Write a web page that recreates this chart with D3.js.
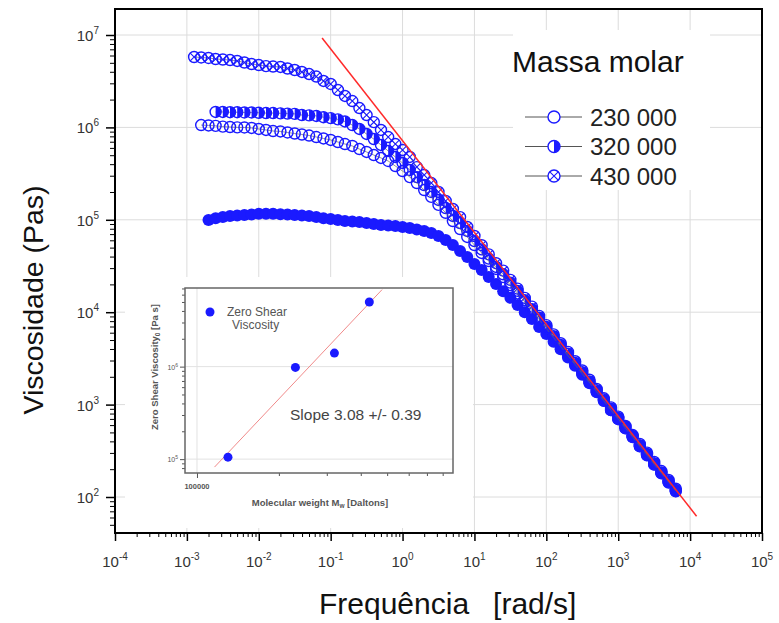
<!DOCTYPE html>
<html>
<head>
<meta charset="utf-8">
<script src="https://cdn.jsdelivr.net/npm/d3@7"></script>
<style>
  body { margin: 0; background: #fff; }
  svg { font-family: "Liberation Sans", Arial, Helvetica, sans-serif; }
</style>
</head>
<body>
<svg id="chart" width="779" height="623"></svg>
<script>
// frequencies [rad/s]
const freq = [0.00126, 0.00158, 0.002, 0.00251, 0.00316, 0.00398, 0.00501, 0.00631, 0.00794, 0.01,
	0.0126, 0.0158, 0.02, 0.0251, 0.0316, 0.0398, 0.0501, 0.0631, 0.0794, 0.1,
	0.126, 0.158, 0.2, 0.251, 0.316, 0.398, 0.501, 0.631, 0.794, 1,
	1.26, 1.58, 2, 2.51, 3.16, 3.98, 5.01, 6.31, 7.94, 10,
	12.6, 15.8, 20, 25.1, 31.6, 39.8, 50.1, 63.1, 79.4, 100,
	126, 158, 200, 251, 316, 398, 501, 631, 794, 1000,
	1259, 1585, 1995, 2512, 3162, 3981, 5012, 6310];

// viscosity [Pa s] for each molar mass, null = no point
const eta430 = [5.78e6, 5.71e6, 5.64e6, 5.50e6, 5.43e6, 5.36e6, 5.24e6, 5.04e6, 4.85e6, 4.73e6,
	4.61e6, 4.56e6, 4.51e6, 4.34e6, 4.18e6, 3.98e6, 3.78e6, 3.55e6, 3.18e6, 2.95e6,
	2.54e6, 2.19e6, 1.93e6, 1.62e6, 1.36e6, 1.14e6, 9.38e5, 7.87e5, 6.61e5, 5.69e5,
	4.79e5, 3.72e5, 3.05e5, 2.50e5, 2.00e5, 1.60e5, 1.31e5, 1.07e5, 8.36e4, 6.68e4,
	5.31e4, 4.22e4, 3.39e4, 2.82e4, 2.24e4, 1.80e4, 1.43e4, 1.15e4, 9.12e3, 7.24e3,
	5.75e3, 4.62e3, 3.72e3, 2.95e3, 2.34e3, 1.86e3, 1.48e3, 1.17e3, 933, 741,
	589, 468, 376, 302, 240, 191, 153, 123];

const eta320 = [null, null, null, 1.47e6, 1.47e6, 1.46e6, 1.46e6, 1.45e6, 1.45e6, 1.44e6,
	1.43e6, 1.43e6, 1.42e6, 1.41e6, 1.40e6, 1.36e6, 1.35e6, 1.33e6, 1.29e6, 1.26e6,
	1.22e6, 1.16e6, 1.06e6, 9.62e5, 8.49e5, 7.48e5, 6.46e5, 5.56e5, 4.79e5, 4.12e5,
	3.46e5, 2.90e5, 2.38e5, 2.00e5, 1.64e5, 1.34e5, 1.10e5, 9.23e4, 7.57e4, 5.89e4,
	4.79e4, 3.80e4, 3.09e4, 2.57e4, 2.09e4, 1.70e4, 1.35e4, 1.08e4, 8.71e3, 6.92e3,
	5.50e3, 4.42e3, 3.55e3, 2.82e3, 2.24e3, 1.78e3, 1.43e3, 1.14e3, 902, 716,
	575, 457, 363, 292, 232, 184, 148, 119];

const eta230 = [null, 1.06e6, 1.05e6, 1.04e6, 1.02e6, 1.01e6, 1.00e6, 9.98e5, 9.86e5, 9.62e5,
	9.38e5, 9.14e5, 9.04e5, 8.81e5, 8.59e5, 8.38e5, 8.17e5, 7.87e5, 7.59e5, 7.31e5,
	6.95e5, 6.61e5, 6.30e5, 5.83e5, 5.42e5, 5.02e5, 4.67e5, 4.33e5, 3.82e5, 3.37e5,
	2.90e5, 2.50e5, 2.10e5, 1.77e5, 1.45e5, 1.19e5, 9.70e4, 7.94e4, 6.52e4, 5.33e4,
	4.38e4, 3.58e4, 2.94e4, 2.40e4, 1.97e4, 1.60e4, 1.29e4, 1.04e4, 8.32e3, 6.68e3,
	5.33e3, 4.27e3, 3.39e3, 2.72e3, 2.16e3, 1.74e3, 1.38e3, 1.10e3, 871, 700,
	556, 447, 355, 285, 226, 182, 145, 116];

const eta130 = [null, null, 9.95e4, 1.04e5, 1.07e5, 1.10e5, 1.11e5, 1.13e5, 1.14e5, 1.16e5,
	1.16e5, 1.16e5, 1.15e5, 1.14e5, 1.13e5, 1.11e5, 1.10e5, 1.07e5, 1.04e5, 1.02e5,
	9.95e4, 9.70e4, 9.59e4, 9.46e4, 9.23e4, 9.02e4, 8.79e4, 8.67e4, 8.57e4, 8.36e4,
	8.15e4, 7.85e4, 7.57e4, 7.19e4, 6.68e4, 6.04e4, 5.33e4, 4.59e4, 3.95e4, 3.33e4,
	2.86e4, 2.40e4, 2.02e4, 1.69e4, 1.43e4, 1.20e4, 1.00e4, 8.43e3, 6.92e3, 5.81e3,
	4.79e3, 3.98e3, 3.24e3, 2.63e3, 2.11e3, 1.70e3, 1.36e3, 1.10e3, 871, 692,
	550, 442, 351, 282, 224, 180, 143, 115];

const legendTitle = 'Massa molar';
const legendLabels = ['230 000', '320 000', '430 000'];

const xTicks = [1e-4, 1e-3, 1e-2, 1e-1, 1, 1e1, 1e2, 1e3, 1e4, 1e5];
const xExponents = ['-4', '-3', '-2', '-1', '0', '1', '2', '3', '4', '5'];
const yTicks = [1e2, 1e3, 1e4, 1e5, 1e6, 1e7];
const yExponents = ['2', '3', '4', '5', '6', '7'];

// slope -1 reference line (two end points)
const powerLaw = [[0.076, 9.3e6], [12300, 62]];

// inset: zero shear viscosity vs molecular weight
const insetMw = [130000, 230000, 320000, 430000];
const insetEta0 = [1.05e5, 9.8e5, 1.4e6, 5.0e6];
const insetFit = [[116000, 8.2e4], [479000, 6.8e6]];
const insetSlope = 'Slope 3.08 +/- 0.39';

const blue = '#1a1aff';
const svg = d3.select('#chart');

const plot = { left: 115, right: 762, top: 9, bottom: 533 };

const x = d3.scaleLog().domain([1e-4, 1e5]).range([plot.left, plot.right]);
const y = d3.scaleLog().domain([Math.pow(10, 1.6104), Math.pow(10, 7.2814)]).range([plot.bottom, plot.top]);

svg.append('defs').append('clipPath').attr('id', 'plotclip')
	.append('rect')
	.attr('x', plot.left).attr('y', plot.top)
	.attr('width', plot.right - plot.left).attr('height', plot.bottom - plot.top);

// grid
const grid = svg.append('g').attr('stroke', '#dcdcdc').attr('stroke-width', 1);
grid.selectAll('.gx').data(xTicks.slice(1, -1)).enter().append('line')
	.attr('x1', d => x(d)).attr('x2', d => x(d))
	.attr('y1', plot.top).attr('y2', plot.bottom);
grid.selectAll('.gy').data(yTicks).enter().append('line')
	.attr('x1', plot.left).attr('x2', plot.right)
	.attr('y1', d => y(d)).attr('y2', d => y(d));

// minor tick positions
let xMinor = [];
xTicks.slice(0, -1).forEach(function (d) {
	for (let k = 2; k <= 9; k++) xMinor.push(d * k);
});
let yMinor = [];
[1e1, 1e2, 1e3, 1e4, 1e5, 1e6, 1e7].forEach(function (d) {
	for (let k = 2; k <= 9; k++) {
		const v = d * k;
		if (v > y.domain()[0] && v < y.domain()[1]) yMinor.push(v);
	}
});

// axes
svg.append('g').attr('transform', `translate(0,${plot.bottom})`)
	.call(d3.axisBottom(x).tickValues(xTicks).tickSize(8).tickFormat(''))
	.call(g => g.select('.domain').remove())
	.call(g => g.selectAll('line').attr('stroke-width', 1.5));
svg.append('g').attr('transform', `translate(0,${plot.bottom})`)
	.call(d3.axisBottom(x).tickValues(xMinor).tickSize(4).tickFormat(''))
	.call(g => g.select('.domain').remove());
svg.append('g').attr('transform', `translate(${plot.left},0)`)
	.call(d3.axisLeft(y).tickValues(yTicks).tickSize(9).tickFormat(''))
	.call(g => g.select('.domain').remove())
	.call(g => g.selectAll('line').attr('stroke-width', 1.5));
svg.append('g').attr('transform', `translate(${plot.left},0)`)
	.call(d3.axisLeft(y).tickValues(yMinor).tickSize(5).tickFormat(''))
	.call(g => g.select('.domain').remove());

// tick labels with superscripts
const xLab = svg.append('g').attr('fill', '#333').attr('font-size', 15);
xTicks.forEach(function (d, i) {
	const t = xLab.append('text').attr('x', x(d)).attr('y', 567).attr('text-anchor', 'middle');
	t.append('tspan').text('10');
	t.append('tspan').attr('dy', -7).attr('font-size', 10).text(xExponents[i]);
});
const yLab = svg.append('g').attr('fill', '#333').attr('font-size', 15);
yTicks.forEach(function (d, i) {
	const t = yLab.append('text').attr('x', 99).attr('y', y(d) + 6).attr('text-anchor', 'end');
	t.append('tspan').text('10');
	t.append('tspan').attr('dy', -7).attr('font-size', 10).text(yExponents[i]);
});

// series (filled drawn first so the hollow markers stay visible where curves merge)
const seriesList = [
	{ eta: eta130, type: 'filled', r: 6 },
	{ eta: eta430, type: 'crossed', r: 5.5 },
	{ eta: eta320, type: 'half', r: 5.5 },
	{ eta: eta230, type: 'open', r: 5.5 }
];

function drawMarker(g, type, r) {
	if (type === 'filled') {
		g.append('circle').attr('r', r).attr('fill', blue);
		return;
	}
	g.append('circle').attr('r', r).attr('fill', 'none').attr('stroke', blue).attr('stroke-width', 1.4);
	if (type === 'half') {
		g.append('path').attr('d', `M0,${-r} A${r},${r} 0 0 1 0,${r} Z`).attr('fill', blue);
	}
	if (type === 'crossed') {
		const c = r * 0.7;
		g.append('path').attr('d', `M${-c},${-c}L${c},${c}M${-c},${c}L${c},${-c}`)
			.attr('stroke', blue).attr('stroke-width', 1.1);
	}
}

const dataLayer = svg.append('g').attr('clip-path', 'url(#plotclip)');

const line = d3.line()
	.defined(d => d[1] !== null)
	.x(d => x(d[0]))
	.y(d => y(d[1]));

seriesList.forEach(function (s) {
	const pts = freq.map((f, i) => [f, s.eta[i]]);
	dataLayer.append('path').datum(pts)
		.attr('d', line)
		.attr('fill', 'none')
		.attr('stroke', '#666')
		.attr('stroke-width', 0.7);
	pts.filter(p => p[1] !== null).forEach(function (p) {
		const g = dataLayer.append('g').attr('transform', `translate(${x(p[0])},${y(p[1])})`);
		drawMarker(g, s.type, s.r);
	});
});

// slope -1 line
dataLayer.append('line')
	.attr('x1', x(powerLaw[0][0])).attr('y1', y(powerLaw[0][1]))
	.attr('x2', x(powerLaw[1][0])).attr('y2', y(powerLaw[1][1]))
	.attr('stroke', '#ff2a2a').attr('stroke-width', 1.5);

// frame
svg.append('rect')
	.attr('x', plot.left).attr('y', plot.top)
	.attr('width', plot.right - plot.left).attr('height', plot.bottom - plot.top)
	.attr('fill', 'none').attr('stroke', '#000').attr('stroke-width', 2);

// legend
svg.append('rect').attr('x', 513).attr('y', 30).attr('width', 197).attr('height', 160).attr('fill', '#fff');
svg.append('text').attr('x', 512).attr('y', 72).attr('font-size', 30).attr('fill', '#111').text(legendTitle);
const legendTypes = ['open', 'half', 'crossed'];
legendLabels.forEach(function (lab, i) {
	const cy = 117 + i * 29.5;
	svg.append('line').attr('x1', 525).attr('x2', 582).attr('y1', cy).attr('y2', cy)
		.attr('stroke', '#555').attr('stroke-width', 1);
	const g = svg.append('g').attr('transform', `translate(554,${cy})`);
	g.append('circle').attr('r', 6).attr('fill', '#fff');
	drawMarker(g, legendTypes[i], 6);
	svg.append('text').attr('x', 590).attr('y', cy + 8.5).attr('font-size', 24).attr('fill', '#222').text(lab);
});

// axis titles
svg.append('text')
	.attr('transform', 'translate(43,300) rotate(-90)')
	.attr('text-anchor', 'middle')
	.attr('font-size', 28.5).attr('fill', '#111')
	.text('Viscosidade (Pas)');
const xt = svg.append('text').attr('x', 319).attr('y', 614).attr('font-size', 30).attr('fill', '#111');
xt.append('tspan').text('Frequência');
xt.append('tspan').attr('dx', 24).text('[rad/s]');

// ---- inset ----
const inset = { left: 185, right: 453, top: 288, bottom: 473 };
svg.append('rect').attr('x', 125).attr('y', 277).attr('width', 348).attr('height', 251).attr('fill', '#fff');

const xi = d3.scaleLog().domain([Math.pow(10, 4.956), Math.pow(10, 5.941)]).range([inset.left, inset.right]);
const yi = d3.scaleLog().domain([Math.pow(10, 4.85), Math.pow(10, 6.85)]).range([inset.bottom, inset.top]);

const ig = svg.append('g');
ig.selectAll('.igy').data([1e5, 1e6]).enter().append('line')
	.attr('x1', inset.left).attr('x2', inset.right)
	.attr('y1', d => yi(d)).attr('y2', d => yi(d))
	.attr('stroke', '#e2e2e2');
ig.append('line')
	.attr('x1', xi(1e5)).attr('x2', xi(1e5))
	.attr('y1', inset.top).attr('y2', inset.bottom)
	.attr('stroke', '#e2e2e2');

const ixMinor = [2e5, 3e5, 4e5, 5e5, 6e5, 7e5, 8e5];
const iyMinor = [8e4, 9e4, 2e5, 3e5, 4e5, 5e5, 6e5, 7e5, 8e5, 9e5, 2e6, 3e6, 4e6, 5e6, 6e6, 7e6];
ig.append('g').attr('transform', `translate(0,${inset.bottom})`)
	.call(d3.axisBottom(xi).tickValues([1e5]).tickSize(5).tickFormat(''))
	.call(g => g.select('.domain').remove())
	.call(g => g.selectAll('line').attr('stroke', '#555'));
ig.append('g').attr('transform', `translate(0,${inset.bottom})`)
	.call(d3.axisBottom(xi).tickValues(ixMinor).tickSize(3).tickFormat(''))
	.call(g => g.select('.domain').remove())
	.call(g => g.selectAll('line').attr('stroke', '#555'));
ig.append('g').attr('transform', `translate(${inset.left},0)`)
	.call(d3.axisLeft(yi).tickValues([1e5, 1e6]).tickSize(5).tickFormat(''))
	.call(g => g.select('.domain').remove())
	.call(g => g.selectAll('line').attr('stroke', '#555'));
ig.append('g').attr('transform', `translate(${inset.left},0)`)
	.call(d3.axisLeft(yi).tickValues(iyMinor).tickSize(3).tickFormat(''))
	.call(g => g.select('.domain').remove())
	.call(g => g.selectAll('line').attr('stroke', '#555'));

ig.append('rect')
	.attr('x', inset.left).attr('y', inset.top)
	.attr('width', inset.right - inset.left).attr('height', inset.bottom - inset.top)
	.attr('fill', 'none').attr('stroke', '#666').attr('stroke-width', 1.5);

ig.append('line')
	.attr('x1', xi(insetFit[0][0])).attr('y1', yi(insetFit[0][1]))
	.attr('x2', xi(insetFit[1][0])).attr('y2', yi(insetFit[1][1]))
	.attr('stroke', '#f08a8a').attr('stroke-width', 1);

ig.selectAll('.ipt').data(insetMw).enter().append('circle')
	.attr('cx', d => xi(d))
	.attr('cy', (d, i) => yi(insetEta0[i]))
	.attr('r', 4.5)
	.attr('fill', blue);

// inset texts
ig.append('circle').attr('cx', 210).attr('cy', 312).attr('r', 4.5).attr('fill', blue);
ig.append('text').attr('x', 227).attr('y', 316).attr('font-size', 12).attr('fill', '#555').text('Zero Shear');
ig.append('text').attr('x', 232).attr('y', 329).attr('font-size', 12).attr('fill', '#555').text('Viscosity');
ig.append('text').attr('x', 290).attr('y', 420).attr('font-size', 15.5).attr('fill', '#444').text(insetSlope);

[[1e5, '5'], [1e6, '6']].forEach(function (t) {
	const tx = ig.append('text').attr('x', 178).attr('y', yi(t[0]) + 3).attr('text-anchor', 'end')
		.attr('font-size', 7).attr('fill', '#555');
	tx.append('tspan').text('10');
	tx.append('tspan').attr('dy', -3).attr('font-size', 5).text(t[1]);
});
ig.append('text').attr('x', xi(1e5)).attr('y', 489).attr('text-anchor', 'middle')
	.attr('font-size', 7.5).attr('font-weight', 'bold').attr('fill', '#555').text('100000');

const ixt = ig.append('text').attr('x', 320).attr('y', 506).attr('text-anchor', 'middle')
	.attr('font-size', 9.5).attr('font-weight', 'bold').attr('fill', '#555');
ixt.append('tspan').text('Molecular weight M');
ixt.append('tspan').attr('dy', 2).attr('font-size', 6.5).text('w');
ixt.append('tspan').attr('dy', -2).text(' [Daltons]');

const iyt = ig.append('text').attr('transform', 'translate(158,367) rotate(-90)').attr('text-anchor', 'middle')
	.attr('font-size', 9.5).attr('font-weight', 'bold').attr('fill', '#555');
iyt.append('tspan').text('Zero Shear Viscosity');
iyt.append('tspan').attr('dy', 2).attr('font-size', 6.5).text('0');
iyt.append('tspan').attr('dy', -2).text(' [Pa s]');
</script>
</body>
</html>
